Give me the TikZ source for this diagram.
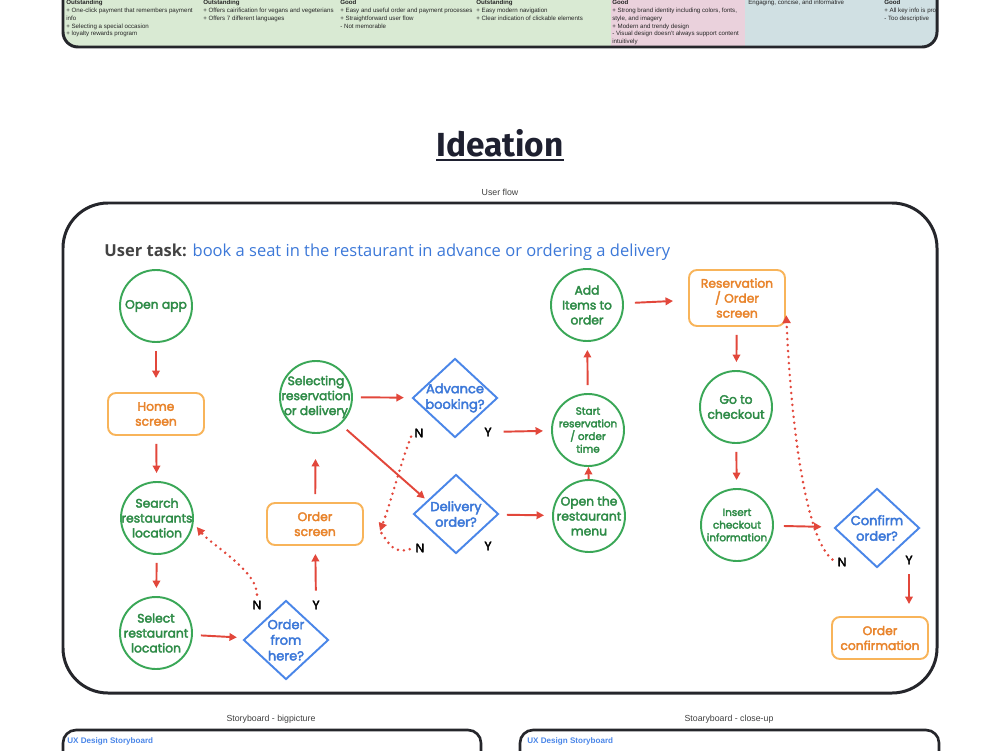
\documentclass[tikz,border=0pt]{standalone}
\usepackage{fontspec}
\setmainfont{Liberation Sans}
\newfontfamily\flowfont{Poppins}[FakeBold=3]
\newfontfamily\taskfont{Open Sans}
\newfontfamily\titlefont{Fira Sans}
\usepackage{xcolor}
\usetikzlibrary{arrows.meta, shapes.geometric, calc}

\definecolor{flowgreen}{HTML}{3AA757}
\definecolor{greentext}{HTML}{2E8B47}
\definecolor{floworange}{HTML}{F8B45A}
\definecolor{orangetext}{HTML}{E8842C}
\definecolor{flowblue}{HTML}{4A86E8}
\definecolor{bluetext}{HTML}{3C78D8}
\definecolor{flowred}{HTML}{E2473B}
\definecolor{frameink}{HTML}{25262B}
\definecolor{titleink}{HTML}{1E2030}
\definecolor{taskgray}{HTML}{434343}
\definecolor{tgreen}{HTML}{D9EAD3}
\definecolor{tpink}{HTML}{EAD1DC}
\definecolor{tblue}{HTML}{D0E0E3}

\begin{document}
\begin{tikzpicture}[x=0.2mm, y=-0.2mm,
  circ/.style={circle, draw=flowgreen, line width=1.1pt, minimum size=14.4mm, inner sep=-2mm, align=center, text=greentext, font=\flowfont\fontsize{7}{8.5}\selectfont},
  tinytext/.style={font=\flowfont\fontsize{5.9}{7.2}\selectfont},
  scr/.style={rectangle, rounded corners=1.6mm, draw=floworange, line width=1.1pt, minimum width=19.2mm, minimum height=8.4mm, inner sep=1pt, align=center, text=orangetext, font=\flowfont\fontsize{7}{8.5}\selectfont},
  dec/.style={diamond, draw=flowblue, line width=1.1pt, minimum width=17mm, minimum height=15.8mm, inner sep=-2.5mm, align=center, text=bluetext, font=\flowfont\fontsize{7.4}{8.9}\selectfont},
  yn/.style={inner sep=1pt, font=\flowfont\fontsize{7}{8}\selectfont, text=black},
  flowarrow/.style={draw=flowred, line width=1.1pt, -{Triangle[length=1.5mm, width=1.5mm]}, shorten <=1.6mm, shorten >=1.6mm},
  dotback/.style={draw=flowred, line width=1.6pt, line cap=round, dash pattern=on 0pt off 1.2mm, -{Triangle[length=1.6mm, width=1.6mm]}, shorten <=0.8mm, shorten >=1mm},
  cell/.style={anchor=north west, inner sep=0pt, align=left, font=\fontsize{3.5}{4.4}\selectfont, text=black!85},
  capt/.style={inner sep=0pt, font=\fontsize{5}{6}\selectfont, text=black!75},
  uxhead/.style={anchor=west, inner sep=0pt, font=\bfseries\fontsize{4.6}{5.5}\selectfont, text=flowblue}]
\useasboundingbox (0,0) rectangle (1000,750);
\clip (0,0) rectangle (1000,750);

% comparison table (cut off at the top)
\begin{scope}
\clip[rounded corners=3mm] (63,-40) rectangle (937,47);
\fill[tgreen] (63,-40) rectangle (611,47);
\fill[tpink] (611,-40) rectangle (745,47);
\fill[tblue] (745,-40) rectangle (937,47);
\node[cell] (tc1) at (66,0) {\textbf{Outstanding}\\+ One-click payment that remembers payment\\info\\+ Selecting a special occasion\\+ loyalty rewards program};
\node[cell] (tc2) at (203,0) {\textbf{Outstanding}\\+ Offers cairification for vegans and vegeterians\\+ Offers 7 different languages};
\node[cell] (tc3) at (340,0) {\textbf{Good}\\+ Easy and useful order and payment processes\\+ Straightforward user flow\\- Not memorable};
\node[cell] (tc4) at (476,0) {\textbf{Outstanding}\\+ Easy modern navigation\\+ Clear indication of clickable elements};
\node[cell] (tc5) at (612,0) {\textbf{Good}\\+ Strong brand identity including colors, fonts,\\style, and imagery\\+ Modern and trendy design\\- Visual design doesn't always support content\\intuitively};
\node[cell] (tc6) at (748,0) {Engaging, concise, and informative};
\node[cell] (tc7) at (884,0) {\textbf{Good}\\+ All key info is provided\\- Too descriptive};
\end{scope}
\draw[frameink, line width=1.7pt, rounded corners=3mm] (63,-40) rectangle (937,47);

% heading
\node[inner sep=0pt, font=\titlefont\bfseries\fontsize{19}{19}\selectfont, text=titleink] (title) at (500,143) {Ideation};
\draw[titleink, line width=1.2pt] ([yshift=-2pt]title.base west) -- ([yshift=-2pt]title.base east);
\node[capt] (cap1) at (500,192) {User flow};

% user flow frame
\draw[frameink, line width=1.7pt, rounded corners=9mm] (63,203) rectangle (937,693);
\node[anchor=west, inner sep=0pt, font=\taskfont\fontsize{9.4}{11}\selectfont] (task) at (104,252) {{\bfseries\color{taskgray}User task:} \color{bluetext}book a seat in the restaurant in advance or ordering a delivery};

% left column
\node[circ] (open) at (156,306) {Open app};
\node[scr] (home) at (156,414) {Home\\screen};
\node[circ] (search) at (157,518) {Search\\restaurants\\location};
\node[circ] (select) at (156,633) {Select\\restaurant\\location};
\node[dec] (here) at (286,640) {Order\\from\\here?};
\node[yn] (nh) at (257,605) {N};
\node[yn] (yh) at (316,605) {Y};

% middle
\node[scr] (ordscr) at (315,524) {Order\\screen};
\node[circ] (sel) at (316,397) {Selecting\\reservation\\or delivery};
\node[dec] (adv) at (455,398) {Advance\\booking?};
\node[yn] (na) at (419,433) {N};
\node[yn] (ya) at (488,432) {Y};
\node[dec] (deliv) at (456,514) {Delivery\\order?};
\node[yn] (nd) at (420,548) {N};
\node[yn] (yd) at (488,546) {Y};
\coordinate (mrg) at (380,531);

% right part
\node[circ, tinytext] (start) at (588,430) {Start\\reservation\\/ order\\time};
\node[circ] (menu) at (589,516) {Open the\\restaurant\\menu};
\node[circ] (add) at (587,305) {Add\\Items to\\order};
\node[scr, minimum height=11.2mm] (resv) at (737,298) {Reservation\\/ Order\\screen};
\node[circ] (checkout) at (736,407) {Go to\\checkout};
\node[circ, tinytext] (insert) at (737,525) {Insert\\checkout\\information};
\node[dec] (confirm) at (877,528) {Confirm\\order?};
\node[yn] (nc) at (842,562) {N};
\node[yn] (yc) at (909,560) {Y};
\node[scr] (ordconf) at (880,638) {Order\\confirmation};

% arrows
\draw[flowarrow, shorten >=2.8mm] (open) -- (home);
\draw[flowarrow] (home) -- (search);
\draw[flowarrow] (search) -- (select);
\draw[flowarrow] (select) -- (here);
\draw[flowarrow] (yh) -- (ordscr);
\draw[flowarrow, shorten >=5mm] (ordscr) -- (sel);
\draw[flowarrow] (sel) -- (adv);
\draw[flowarrow, shorten >=0.6mm] (sel.-48) -- (deliv.155);
\draw[flowarrow, shorten <=2mm] (ya) -- (start);
\draw[flowarrow] (deliv) -- (menu);
\draw[flowarrow, shorten <=0pt, shorten >=0pt] (menu) -- (start);
\draw[flowarrow] (start) -- (add);
\draw[flowarrow, shorten <=2.2mm, shorten >=3mm] (add) -- (resv);
\draw[flowarrow] (resv) -- (checkout);
\draw[flowarrow] (checkout) -- (insert);
\draw[flowarrow, shorten <=2mm, shorten >=2.6mm] (insert) -- (confirm);
\draw[flowarrow, shorten >=2.4mm] (yc) -- (yc |- ordconf.north);

% dotted "no" paths
\draw[dotback] (nh.north) .. controls +(0,-28) and +(18,22) .. (search.-8);
\draw[dotback, shorten >=0pt] (na.west) .. controls +(-12,30) and +(12,-32) .. (mrg);
\draw[dotback, -, shorten >=0pt] (nd.west) .. controls +(-20,6) and +(10,14) .. (mrg);
\draw[dotback] (nc.west) .. controls +(-28,-22) and +(6,130) .. (resv.-14);

% storyboards (cut off at the bottom)
\node[capt] (cap2) at (271,719) {Storyboard - bigpicture};
\node[capt] (cap3) at (729,719) {Stoaryboard - close-up};
\draw[frameink, line width=1.5pt, rounded corners=2.6mm] (63,790) -- (63,730) -- (481,730) -- (481,790);
\draw[frameink, line width=1.5pt, rounded corners=2.6mm] (520,790) -- (520,730) -- (939,730) -- (939,790);
\node[uxhead] (ux1) at (67,741) {UX Design Storyboard};
\node[uxhead] (ux2) at (527,741) {UX Design Storyboard};
\end{tikzpicture}
\end{document}
